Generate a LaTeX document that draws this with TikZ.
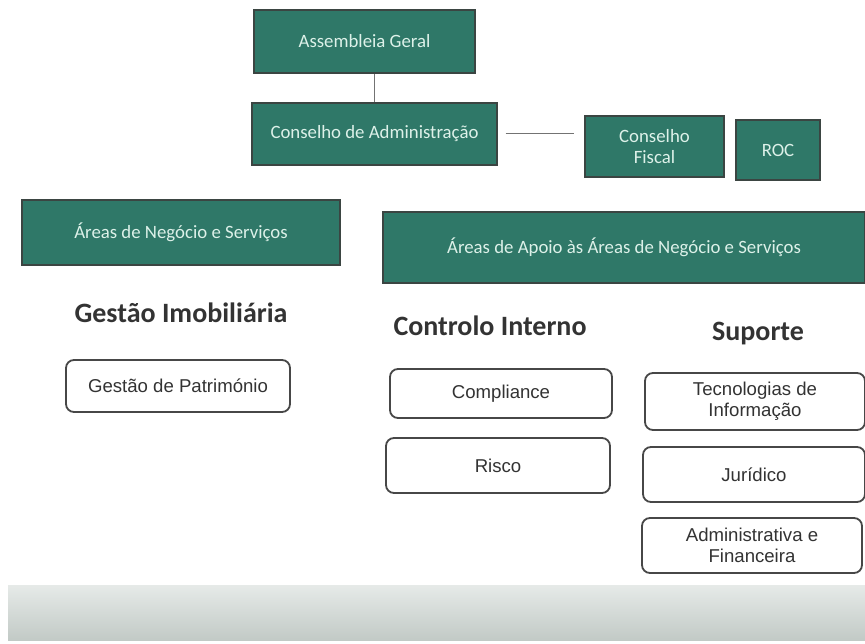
\documentclass[tikz,border=0pt]{standalone}
\usepackage{fontspec}
\setmainfont{Liberation Sans}
\newfontfamily\calfont{Carlito}
\usepackage{xcolor}
\definecolor{orggreen}{HTML}{2F7868}
\definecolor{orgedge}{HTML}{3B4542}
\definecolor{orgtext}{HTML}{DDF1E9}
\definecolor{boxtext}{HTML}{333333}
\definecolor{barlight}{HTML}{E6EAE8}
\definecolor{bardark}{HTML}{C2CAC6}

\begin{document}
\begin{tikzpicture}[x=1pt,y=-1pt,
    greenbox/.style={draw=orgedge, line width=1.2pt, fill=orggreen, text=orgtext,
        font=\calfont\fontsize{18.8}{21}\selectfont, align=center, inner sep=0pt},
    unitbox/.style={draw=boxtext!90, line width=1.8pt, rounded corners=8pt, fill=white,
        text=boxtext, font=\fontsize{18.6}{21}\selectfont, align=center, inner sep=0pt},
    areatitle/.style={text=boxtext, font=\calfont\bfseries\fontsize{28}{30}\selectfont}]
            \useasboundingbox (0,0) rectangle (865,644);
            \fill[white] (0,0) rectangle (865,644);
            \shade[top color=barlight, bottom color=bardark] (8,585) rectangle (865,640);
            \node[greenbox, minimum width=221pt, minimum height=63pt] (ag) at (364.5,41.5) {Assembleia Geral};
            \node[greenbox, minimum width=245pt, minimum height=62pt] (ca) at (374.5,134) {Conselho de Administração};
            \node[greenbox, minimum width=139pt, minimum height=61pt] (cf) at (654.5,146.5) {Conselho\\Fiscal};
            \node[greenbox, minimum width=84pt, minimum height=60pt] (roc) at (778,150) {ROC};
            \node[greenbox, minimum width=318pt, minimum height=65pt] (ans) at (181,232.5) {Áreas de Negócio e Serviços};
            \node[greenbox, minimum width=482pt, minimum height=71pt] (aap) at (624,247.5) {Áreas de Apoio às Áreas de Negócio e Serviços};
            \draw[black!55, line width=1pt] (ca.north) -- (ca.north |- ag.south);
            \draw[black!55, line width=1pt, shorten <=8pt, shorten >=10pt] (ca.east) -- (cf.west |- ca.east);
            \node[areatitle] (gi) at (181,313) {Gestão Imobiliária};
            \node[areatitle] (ci) at (490,326) {Controlo Interno};
            \node[areatitle] (sup) at (758,334) {Suporte};
            \node[unitbox, minimum width=224pt, minimum height=52pt] (gp) at (178,386) {Gestão de Património};
            \node[unitbox, minimum width=222pt, minimum height=49pt] (comp) at (501,393.5) {Compliance};
            \node[unitbox, minimum width=224pt, minimum height=55pt] (risco) at (498,465.5) {Risco};
            \node[unitbox, minimum width=220pt, minimum height=57pt] (ti) at (755,401.5) {Tecnologias de\\Informação};
            \node[unitbox, minimum width=222pt, minimum height=55pt] (jur) at (754,474.5) {Jurídico};
            \node[unitbox, minimum width=220pt, minimum height=55pt] (af) at (752,545.5) {Administrativa e\\Financeira};
        \end{tikzpicture}
\end{document}
